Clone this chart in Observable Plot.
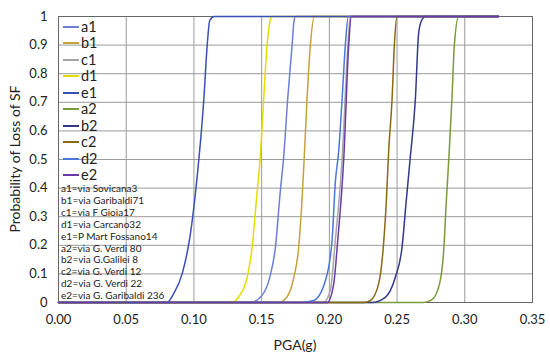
<!DOCTYPE html>
<html><head><meta charset="utf-8">
<script src="https://cdn.jsdelivr.net/npm/d3@7"></script>
<script src="https://cdn.jsdelivr.net/npm/@observablehq/plot@0.6"></script>
<style>
body{margin:0;background:#fff;}
#wrap{position:relative;width:550px;height:357px;font-family:Lato,"Open Sans",sans-serif;color:#222;overflow:hidden;}
#wrap svg{position:absolute;left:0;top:0;}
.ov{position:absolute;white-space:nowrap;}
#legend{left:63px;top:18.5px;font-size:14.5px;line-height:16.5px;}
#legend .row{display:flex;align-items:center;height:16.5px;}
#legend .sw{display:inline-block;width:16px;height:2px;margin-right:2px;}
#notes{left:61px;top:183px;font-size:10px;line-height:11.9px;}
#ytitle{left:14px;top:159px;font-size:14px;transform:translate(-50%,-50%) rotate(-90deg);}
#xtitle{left:295px;top:344px;font-size:14px;transform:translate(-50%,-50%);}
</style></head><body><div id="wrap"></div>
<script>
const series = ["a1","b1","c1","d1","e1","a2","b2","c2","d2","e2"];
const seriesColors = ["#6b7fd7","#c6a23c","#a5a5a5","#e4dc00","#3a4fb8","#7a9a3c","#33398a","#8a6a12","#4a78d8","#6a3aa8"];
const addresses = ["a1=via Sovicana3","b1=via Garibaldi71","c1=via F Gioia17","d1=via Carcano32","e1=P Mart Fossano14","a2=via G. Verdi 80","b2=via G.Galilei 8","c2=via G. Verdi 12","d2=via G. Verdi 22","e2=via G. Garibaldi 236"];
const xTicks = [0,0.05,0.10,0.15,0.20,0.25,0.30,0.35];
const yTicks = [0,0.1,0.2,0.3,0.4,0.5,0.6,0.7,0.8,0.9,1];

// PGA (g) and probability points
const pga_a1 = [0,0.1417,0.1503,0.1560,0.1601,0.1638,0.1663,0.1692,0.1725,0.1738,0.1749,0.325];
const p_a1   = [0,0,0.025,0.088,0.19,0.39,0.51,0.71,0.90,0.98,1,1];
const pga_b1 = [0,0.1626,0.1688,0.1736,0.1773,0.1798,0.1815,0.1835,0.1860,0.1889,0.325];
const p_b1   = [0,0,0.02,0.084,0.19,0.357,0.51,0.71,0.90,1,1];
const pga_c1 = [0,0.1955,0.2007,0.2044,0.2094,0.2137,0.2155,0.325];
const p_c1   = [0,0,0.042,0.217,0.50,0.90,1,1];
const pga_d1 = [0,0.1282,0.1331,0.1393,0.1429,0.1461,0.1490,0.1515,0.1540,0.1560,0.1577,0.325];
const p_d1   = [0,0,0.02,0.088,0.19,0.357,0.51,0.71,0.90,0.98,1,1];
const pga_e1 = [0,0.0802,0.0849,0.0913,0.0974,0.1006,0.1024,0.1048,0.1073,0.1098,0.1117,0.1150,0.325];
const p_e1   = [0,0,0.03,0.10,0.24,0.36,0.44,0.56,0.71,0.90,0.986,1,1];
const pga_a2 = [0,0.2697,0.2758,0.2814,0.2844,0.2864,0.2883,0.2905,0.2923,0.2955,0.325];
const p_a2   = [0,0,0.01,0.066,0.18,0.357,0.51,0.71,0.90,1,1];
const pga_b2 = [0,0.2315,0.2413,0.2487,0.2536,0.2568,0.2598,0.2635,0.2659,0.2680,0.2709,0.325];
const p_b2   = [0,0,0.018,0.088,0.19,0.357,0.51,0.71,0.94,0.985,1,1];
const pga_c2 = [0,0.2253,0.2303,0.2364,0.2396,0.2421,0.2438,0.2463,0.2480,0.2500,0.325];
const p_c2   = [0,0,0.007,0.066,0.18,0.357,0.53,0.71,0.90,1,1];
const pga_d2 = [0,0.1786,0.1884,0.1971,0.2020,0.2044,0.2069,0.2094,0.2118,0.2140,0.325];
const p_d2   = [0,0,0.007,0.077,0.217,0.42,0.53,0.71,0.90,1,1];
const pga_e2 = [0,0.1985,0.2032,0.2062,0.2106,0.2143,0.2162,0.325];
const p_e2   = [0,0,0.065,0.217,0.50,0.90,1,1];

const pgaBy = {a1:pga_a1,b1:pga_b1,c1:pga_c1,d1:pga_d1,e1:pga_e1,a2:pga_a2,b2:pga_b2,c2:pga_c2,d2:pga_d2,e2:pga_e2};
const pBy = {a1:p_a1,b1:p_b1,c1:p_c1,d1:p_d1,e1:p_e1,a2:p_a2,b2:p_b2,c2:p_c2,d2:p_d2,e2:p_e2};

const rows = series.flatMap(s => pgaBy[s].map((x,i) => ({series:s, pga:x, p:pBy[s][i]})));

const chart = Plot.plot({
  width:550, height:357,
  marginLeft:58, marginRight:18, marginTop:16, marginBottom:55,
  style:{fontFamily:"Lato, 'Open Sans', sans-serif", fontSize:"13px", color:"#222", background:"transparent"},
  x:{domain:[0,0.35]},
  y:{domain:[0,1]},
  color:{domain:series, range:seriesColors},
  marks:[
    Plot.gridX(xTicks,{stroke:"#9a9a9a", strokeOpacity:1}),
    Plot.gridY(yTicks,{stroke:"#9a9a9a", strokeOpacity:1}),
    Plot.frame({stroke:"#666"}),
    Plot.axisX({ticks:xTicks, tickSize:0, tickPadding:12, tickFormat:d3.format(".2f"), label:null}),
    Plot.axisY({ticks:yTicks, tickSize:0, tickPadding:11, tickFormat:d => (d===0?"0":d===1?"1":d.toFixed(1)), label:null}),
    Plot.line(rows,{x:"pga", y:"p", z:"series", stroke:"series", strokeWidth:1.5, curve:"monotone-x"})
  ]
});

const wrap = document.getElementById("wrap");
wrap.appendChild(chart);

const leg = document.createElement("div");
leg.id = "legend"; leg.className = "ov";
series.forEach((s,i) => {
  const r = document.createElement("div"); r.className = "row";
  const sw = document.createElement("span"); sw.className = "sw"; sw.style.background = seriesColors[i];
  const t = document.createElement("span"); t.textContent = s;
  r.appendChild(sw); r.appendChild(t); leg.appendChild(r);
});
wrap.appendChild(leg);

const notes = document.createElement("div");
notes.id = "notes"; notes.className = "ov";
addresses.forEach(a => { const d = document.createElement("div"); d.textContent = a; notes.appendChild(d); });
wrap.appendChild(notes);

const yt = document.createElement("div"); yt.id = "ytitle"; yt.className = "ov"; yt.textContent = "Probability of Loss of SF"; wrap.appendChild(yt);
const xt = document.createElement("div"); xt.id = "xtitle"; xt.className = "ov"; xt.textContent = "PGA(g)"; wrap.appendChild(xt);
</script></body></html>
